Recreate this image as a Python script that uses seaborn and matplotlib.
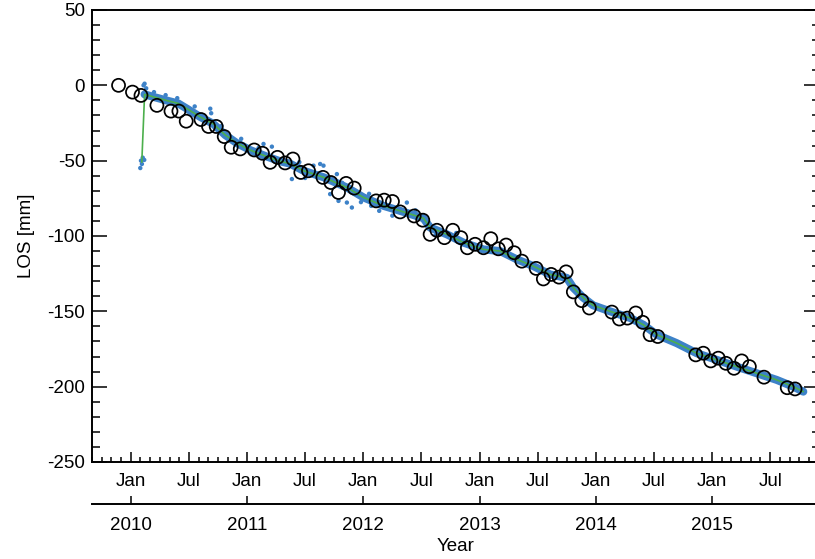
import numpy as np
import pandas as pd
import matplotlib
matplotlib.use("Agg")
import matplotlib.pyplot as plt
import seaborn as sns

# ---------------- data (decimal years, LOS in mm) ----------------
circ_t = [2009.895, 2010.015, 2010.088, 2010.225, 2010.346, 2010.414, 2010.477,
          2010.604, 2010.669, 2010.735, 2010.804, 2010.864, 2010.942, 2011.062,
          2011.133, 2011.199, 2011.262, 2011.328, 2011.395, 2011.463, 2011.529,
          2011.653, 2011.721, 2011.787, 2011.853, 2011.922, 2012.111, 2012.180,
          2012.251, 2012.317, 2012.438, 2012.512, 2012.575, 2012.633, 2012.698,
          2012.770, 2012.839, 2012.896, 2012.962, 2013.034, 2013.097, 2013.162,
          2013.229, 2013.298, 2013.364, 2013.487, 2013.549, 2013.616, 2013.684,
          2013.745, 2013.807, 2013.880, 2013.945, 2014.138, 2014.203, 2014.272,
          2014.344, 2014.404, 2014.467, 2014.533, 2014.860, 2014.925, 2014.989,
          2015.054, 2015.120, 2015.189, 2015.255, 2015.321, 2015.447, 2015.647,
          2015.714]
circ_los = [0.0, -4.5, -6.7, -13.3, -17.1, -17.1, -23.8,
            -22.7, -27.3, -27.3, -34.0, -41.1, -42.2, -42.9,
            -45.1, -51.1, -47.8, -51.5, -48.9, -57.8, -56.7,
            -61.1, -64.5, -71.1, -65.1, -68.2, -76.7, -76.2,
            -77.1, -84.0, -86.7, -89.5, -98.9, -96.2, -101.1,
            -96.2, -101.1, -107.8, -105.5, -107.8, -101.8, -108.5,
            -106.0, -111.1, -116.7, -121.5, -128.5, -125.5, -127.3,
            -123.8, -137.1, -142.9, -147.8, -150.5, -155.1, -154.5,
            -151.1, -157.3, -165.5, -166.7, -178.9, -177.8, -182.9,
            -181.1, -184.5, -187.8, -182.9, -186.7, -193.7, -200.7,
            -201.5]

trend_t = [2010.095, 2010.119, 2010.211, 2010.325, 2010.408, 2010.483, 2010.598,
           2010.709, 2010.813, 2010.913, 2011.028, 2011.171, 2011.285, 2011.371,
           2011.486, 2011.658, 2011.859, 2012.002, 2012.174, 2012.346, 2012.518,
           2012.575, 2012.719, 2012.862, 2013.033, 2013.177, 2013.321, 2013.463,
           2013.607, 2013.751, 2013.807, 2013.893, 2013.977, 2014.123, 2014.295,
           2014.409, 2014.525, 2014.696, 2014.868, 2015.040, 2015.212, 2015.384,
           2015.556, 2015.699, 2015.785]
trend_los = [-51.0, -6.0, -8.0, -10.4, -12.0, -15.5, -21.0,
             -25.5, -33.0, -38.4, -43.0, -47.3, -50.4, -52.0,
             -56.7, -61.0, -67.8, -74.4, -80.0, -84.0, -88.2,
             -94.4, -98.9, -104.4, -108.9, -110.0, -115.5, -120.0,
             -125.5, -127.8, -134.4, -141.0, -146.0, -150.0, -154.4,
             -158.9, -165.5, -171.1, -177.8, -182.2, -186.7, -191.1,
             -195.5, -200.0, -203.3]

blue_t = [2010.088, 2010.096, 2010.082, 2010.116, 2010.103, 2010.110, 2010.119,
          2010.133, 2010.684, 2010.692, 2011.142, 2011.214, 2011.386, 2011.572,
          2011.629, 2011.658, 2011.773, 2011.715, 2011.787, 2011.859, 2011.902,
          2012.375, 2012.068, 2012.137, 2011.544, 2011.698, 2011.819, 2011.930,
          2010.20, 2010.30, 2010.40, 2010.55, 2010.78, 2010.95, 2011.10,
          2011.45, 2011.50, 2011.98, 2012.05, 2012.25, 2012.45, 2012.62,
          2012.80, 2012.95]
blue_los = [-50.0, -52.2, -54.9, -49.5, -48.0, 0.0, 1.1,
            -2.0, -15.5, -18.5, -38.9, -40.7, -62.2, -53.3,
            -52.2, -53.3, -58.9, -72.2, -76.7, -77.8, -81.1,
            -77.8, -80.0, -83.3, -58.0, -62.0, -64.7, -70.0,
            -4.5, -6.5, -8.5, -14.0, -27.0, -35.5, -41.5,
            -51.0, -61.5, -77.5, -72.0, -86.5, -83.0, -99.5,
            -98.0, -108.5]

major_pos = [2010.0, 2010.5, 2011.0, 2011.5, 2012.0, 2012.5, 2013.0,
             2013.5, 2014.0, 2014.5, 2015.0, 2015.5]
major_lab = ["Jan", "Jul"] * 6
year_pos = [2010, 2011, 2012, 2013, 2014, 2015]
year_lab = ["2010", "2011", "2012", "2013", "2014", "2015"]

BLUE = "#3d82c8"
GREEN = "#4caf4c"

# ---------------- figure ----------------
sns.set_style("ticks")
plt.rcParams["font.family"] = ["Liberation Sans", "DejaVu Sans"]
plt.rcParams["font.size"] = 13.5
plt.rcParams["axes.unicode_minus"] = False
plt.rcParams["text.color"] = "black"
plt.rcParams["axes.labelcolor"] = "black"
plt.rcParams["xtick.color"] = "black"
plt.rcParams["ytick.color"] = "black"
plt.rcParams["axes.edgecolor"] = "black"

W, H = 815, 559
fig = plt.figure(figsize=(W / 100, H / 100), dpi=100)
ax = fig.add_axes([92 / W, 1 - 462 / H, (818.6 - 92) / W, (462 - 10) / H])

# blue point cloud (band + scattered points)
sns.lineplot(x=trend_t[1:], y=trend_los[1:], ax=ax, color=BLUE, lw=5.8,
             sort=False, estimator=None, solid_capstyle="round", zorder=2)
sns.scatterplot(x=blue_t, y=blue_los, ax=ax, color=BLUE, s=10,
                edgecolor="none", zorder=2)
# green smoothed line
sns.lineplot(x=trend_t, y=trend_los, ax=ax, color=GREEN, lw=1.2,
             sort=False, estimator=None, zorder=3)
# open circles
sns.scatterplot(x=circ_t, y=circ_los, ax=ax, facecolor="none",
                edgecolor="black", s=88, linewidth=1.25, zorder=5)

ax.set_xlim(2009 + 8 / 12, 2015 + 11 / 12)
ax.set_ylim(-250, 50)

minor_pos = [2009 + m / 12 for m in range(8, 12 * 6 + 12)]
ax.set_xticks(major_pos)
ax.set_xticklabels(major_lab)
ax.set_xticks(minor_pos, minor=True)
ax.set_yticks(np.arange(-250, 51, 50))
ax.set_yticks(np.arange(-250, 51, 10), minor=True)

ax.tick_params(axis="x", which="major", direction="in", length=7.5, width=1.1,
               top=True, bottom=True, pad=8)
ax.tick_params(axis="x", which="minor", direction="in", length=3.8, width=1.1,
               top=True, bottom=True)
ax.tick_params(axis="y", which="major", direction="in", length=10.8, width=1.1,
               left=True, right=True, pad=5)
ax.tick_params(axis="y", which="minor", direction="in", length=5.4, width=1.1,
               left=True, right=True)
for s in ax.spines.values():
    s.set_linewidth(1.4)
    s.set_color("black")
ax.set_xlabel("")
ax.set_ylabel("LOS [mm]", labelpad=9)

# secondary year axis
ax2 = ax.twiny()
ax2.set_xlim(ax.get_xlim())
for k in ["top", "left", "right"]:
    ax2.spines[k].set_visible(False)
ax2.spines["bottom"].set_visible(True)
ax2.spines["bottom"].set_position(("outward", 30.5))
ax2.spines["bottom"].set_linewidth(1.4)
ax2.spines["bottom"].set_color("black")
ax2.xaxis.set_ticks_position("bottom")
ax2.xaxis.set_label_position("bottom")
ax2.set_xticks(year_pos)
ax2.set_xticklabels(year_lab)
ax2.tick_params(axis="x", which="major", direction="in", length=6, width=1.1, pad=9)
ax2.set_xticks([], minor=True)
ax2.set_xlabel("Year", labelpad=3)

fig.savefig("out.png", dpi=100)
